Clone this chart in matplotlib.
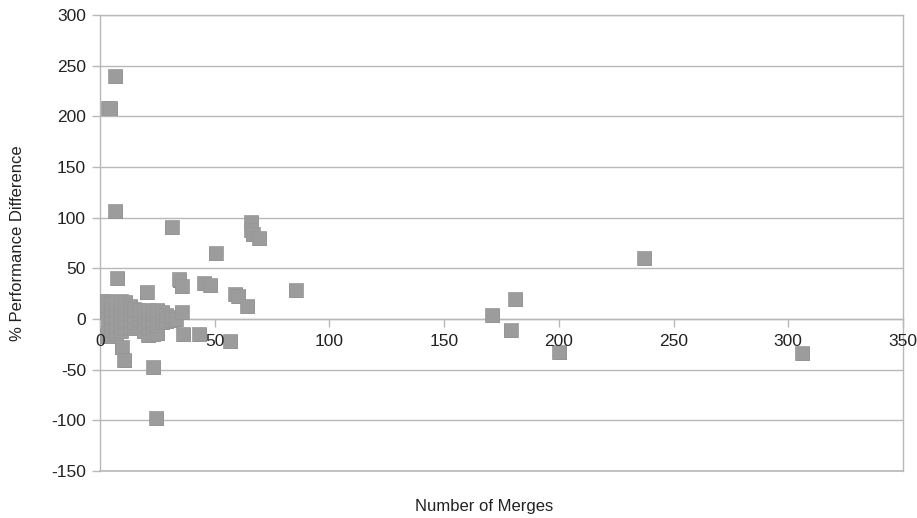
import numpy as np
import matplotlib
matplotlib.use("Agg")
import matplotlib.pyplot as plt

plt.rcParams['font.family'] = ['Liberation Sans', 'DejaVu Sans']
plt.rcParams['axes.unicode_minus'] = False

# dense cluster near the origin (read column by column)
clusterX = [1]*6 + [3]*6 + [5]*6 + [7]*5 + [9]*6 + [11]*5 + [13]*4 + [15]*4 + [17]*4 + \
           [19]*4 + [21]*5 + [23]*5 + [25]*4 + [27]*3 + [29]*2 + [31]*2 + [33]
clusterY = [-17, -10, -3, 4, 11, 18,
            -15, -8, 0, 7, 14, 18,
            -17, -11, -4, 3, 10, 16,
            -14, -6, 2, 9, 17,
            -12, -5, 1, 8, 15, 18,
            -9, -2, 5, 12, 17,
            -8, 0, 6, 13,
            -9, -3, 4, 10,
            -7, 0, 6, 9,
            -12, -5, 2, 8,
            -16, -9, -2, 5, 9,
            -15, -8, -1, 6, 8,
            -14, -6, 1, 9,
            -3, 3, 7,
            -2, 4,
            -1, 2,
            0]

# scattered points
outX = [3.5, 4.4, 6.5, 6.5, 31.2, 66, 66, 66.5, 69.3, 50.4, 7.3, 34.4, 35.6, 45.3, 47.9,
        20.3, 58.8, 60.3, 64, 85.3, 35.6, 36.3, 43.3, 56.7, 9.4, 10.5, 23.2, 24.3,
        237, 181, 171, 179, 200, 306]
outY = [208, 208.6, 239.6, 107, 91, 96, 88, 84, 80, 65.6, 40, 39, 33, 36, 34,
        27, 25, 23, 13, 28.4, 7, -14.5, -14.5, -22, -28, -40, -47, -98,
        60, 20, 4, -11, -33, -34]

merges = np.array(clusterX + outX)
perfDiff = np.array(clusterY + outY)

xTicks = [0, 50, 100, 150, 200, 250, 300, 350]
yTicks = [-150, -100, -50, 0, 50, 100, 150, 200, 250, 300]

gridCol = '#b8b8b8'

fig = plt.figure(figsize=(9.17, 5.18), dpi=100)
ax = fig.add_axes([0.109, 0.0907, 0.8757, 0.8803])

# marker shadow + marker
ax.scatter(merges + 0.35, perfDiff - 1.0, marker='s', s=88, color='#8a8a8a',
           linewidths=0, zorder=2)
ax.scatter(merges, perfDiff, marker='s', s=88, color='#9c9c9c',
           edgecolors='#979797', linewidths=0.5, zorder=2)

ax.set_xlim(0, 350)
ax.set_ylim(-150, 300)
ax.set_xticks(xTicks)
ax.set_yticks(yTicks)

ax.yaxis.grid(True, color=gridCol, linewidth=1)
ax.axhline(-150, color=gridCol, linewidth=1.2, clip_on=False, zorder=1)
ax.set_axisbelow(True)
ax.xaxis.set_zorder(3)

for s in ['top', 'right', 'left', 'bottom']:
    ax.spines[s].set_color(gridCol)
    ax.spines[s].set_linewidth(1)
    ax.spines[s].set_zorder(1)
ax.spines['bottom'].set_position(('data', 0))

ax.tick_params(axis='both', colors=gridCol, length=6, width=1, labelcolor='#222222',
               labelsize=12.5)
ax.tick_params(axis='x', pad=5)
ax.tick_params(axis='y', pad=4)

ax.set_xlabel('Number of Merges', fontsize=12, color='#222222')
ax.set_ylabel('% Performance Difference', fontsize=12, color='#222222')
ax.xaxis.set_label_coords(0.478, -0.062)
ax.yaxis.set_label_coords(-0.093, 0.5)

fig.savefig('out.png', dpi=100)
